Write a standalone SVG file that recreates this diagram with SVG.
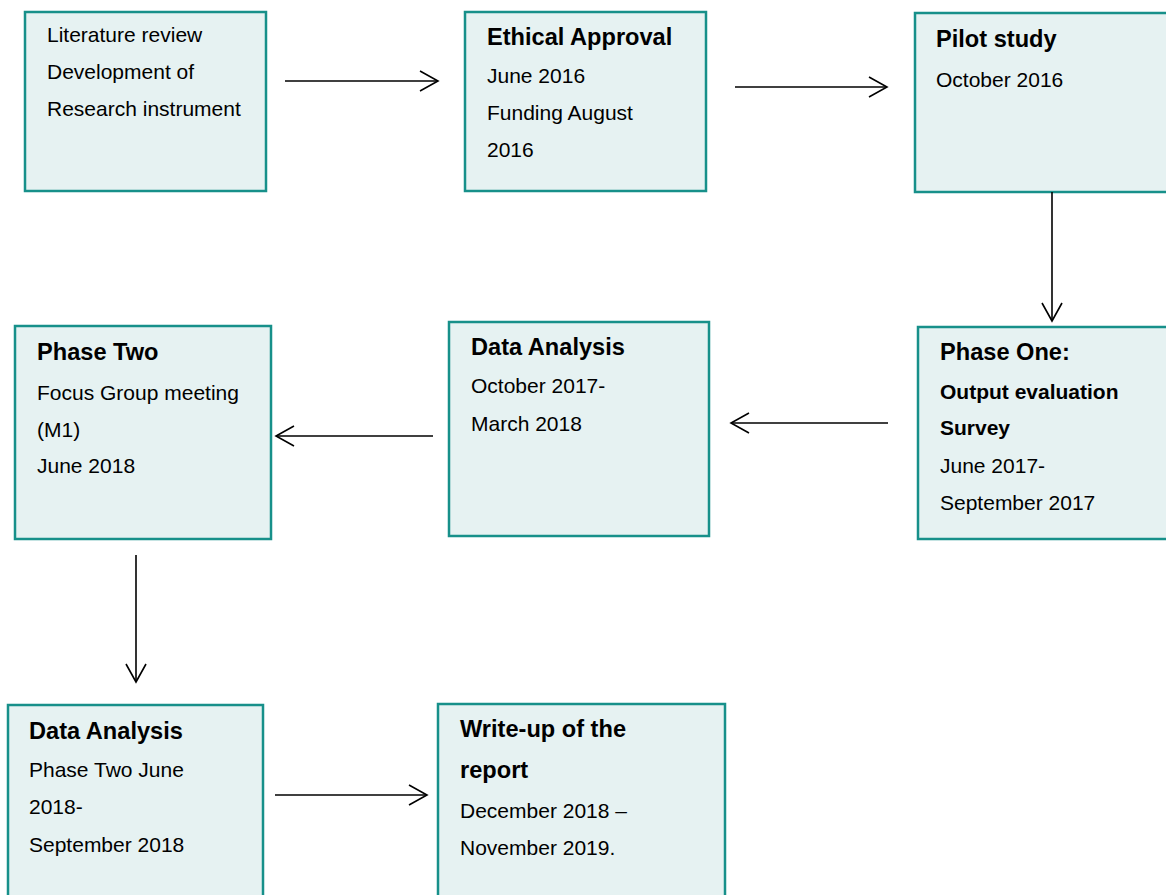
<svg xmlns="http://www.w3.org/2000/svg" width="1166" height="895" viewBox="0 0 1166 895">
<defs>
<style>
.box{fill:#e6f2f2;stroke:#17908a;stroke-width:2.5}
text{font-family:"Liberation Sans",Arial,sans-serif;fill:#000}
.r{font-size:21px}
.h{font-size:23.6px;font-weight:bold}
.b{font-size:21px;font-weight:bold}
.con line{stroke:#000;stroke-width:1.6;fill:none}
</style>
<marker id="ah" viewBox="-20 -12 22 24" refX="0" refY="0" markerWidth="22" markerHeight="24" markerUnits="userSpaceOnUse" orient="auto">
<path d="M-18,-10 L0,0 L-18,10" fill="none" stroke="#000" stroke-width="1.6"/>
</marker>
</defs>
<rect width="1166" height="895" fill="#fff"/>
<g id="n1">
<rect class="box" x="25" y="12" width="241" height="179"/>
<text class="r" x="47" y="42">Literature review</text>
<text class="r" x="47" y="79">Development of</text>
<text class="r" x="47" y="116">Research instrument</text>
</g>
<g id="n2">
<rect class="box" x="465" y="12" width="241" height="179"/>
<text class="h" x="487" y="45">Ethical Approval</text>
<text class="r" x="487" y="83">June 2016</text>
<text class="r" x="487" y="120">Funding August</text>
<text class="r" x="487" y="157">2016</text>
</g>
<g id="n3">
<rect class="box" x="915" y="13" width="260" height="179"/>
<text class="h" x="936" y="47">Pilot study</text>
<text class="r" x="936" y="87">October 2016</text>
</g>
<g id="n4">
<rect class="box" x="918" y="327" width="260" height="212"/>
<text class="h" x="940" y="360">Phase One:</text>
<text class="b" x="940" y="399">Output evaluation</text>
<text class="b" x="940" y="435">Survey</text>
<text class="r" x="940" y="473">June 2017-</text>
<text class="r" x="940" y="510">September 2017</text>
</g>
<g id="n5">
<rect class="box" x="449" y="322" width="260" height="214"/>
<text class="h" x="471" y="355">Data Analysis</text>
<text class="r" x="471" y="393">October 2017-</text>
<text class="r" x="471" y="431">March 2018</text>
</g>
<g id="n6">
<rect class="box" x="15" y="326" width="256" height="213"/>
<text class="h" x="37" y="360">Phase Two</text>
<text class="r" x="37" y="400">Focus Group meeting</text>
<text class="r" x="37" y="437">(M1)</text>
<text class="r" x="37" y="473">June 2018</text>
</g>
<g id="n7">
<rect class="box" x="8" y="705" width="255" height="200"/>
<text class="h" x="29" y="739">Data Analysis</text>
<text class="r" x="29" y="777">Phase Two June</text>
<text class="r" x="29" y="814">2018-</text>
<text class="r" x="29" y="852">September 2018</text>
</g>
<g id="n8">
<rect class="box" x="438" y="704" width="287" height="200"/>
<text class="h" x="460" y="737">Write-up of the</text>
<text class="h" x="460" y="778">report</text>
<text class="r" x="460" y="818">December 2018 –</text>
<text class="r" x="460" y="855">November 2019.</text>
</g>
<g id="connectors" class="con">
<line x1="285" y1="81" x2="438" y2="81" marker-end="url(#ah)"/>
<line x1="735" y1="87" x2="887" y2="87" marker-end="url(#ah)"/>
<line x1="1052" y1="192" x2="1052" y2="321" marker-end="url(#ah)"/>
<line x1="888" y1="423" x2="731" y2="423" marker-end="url(#ah)"/>
<line x1="433" y1="436" x2="276" y2="436" marker-end="url(#ah)"/>
<line x1="136" y1="555" x2="136" y2="682" marker-end="url(#ah)"/>
<line x1="275" y1="795" x2="427" y2="795" marker-end="url(#ah)"/>
</g>
</svg>
